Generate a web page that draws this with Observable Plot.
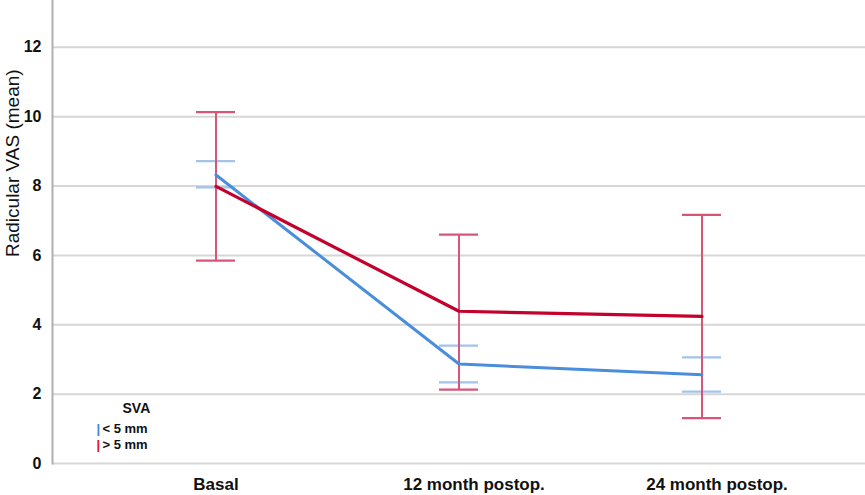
<!DOCTYPE html>
<html>
<head>
<meta charset="utf-8">
<script src="https://cdn.jsdelivr.net/npm/d3@7"></script>
<script src="https://cdn.jsdelivr.net/npm/@observablehq/plot@0.6"></script>
<style>
  html, body { margin: 0; padding: 0; background: #fff; }
  #chart { width: 865px; height: 495px; }
  svg { font-family: "Liberation Sans", Arial, sans-serif; }
</style>
</head>
<body>
<div id="chart"></div>
<script>
const categories = ["Basal", "12 month postop.", "24 month postop."];
const groups = ["< 5 mm", "> 5 mm"];
const meanLow = [8.32, 2.87, 2.56];      // SVA < 5 mm
const ciLowLo = [7.96, 2.34, 2.07];
const ciLowHi = [8.72, 3.40, 3.06];
const meanHigh = [7.99, 4.39, 4.24];     // SVA > 5 mm
const ciHighLo = [5.85, 2.13, 1.31];
const ciHighHi = [10.13, 6.60, 7.17];
const yTicks = [0, 2, 4, 6, 8, 10, 12];

const lineColor = {"< 5 mm": "#4a8edb", "> 5 mm": "#c4002d"};
const barColor = {"< 5 mm": "#a3c3ea", "> 5 mm": "#d8557a"};
const legendTick = {"< 5 mm": "#3f86de", "> 5 mm": "#e0102f"};

const rows = [];
categories.forEach((c, i) => {
  rows.push({cat: c, group: groups[0], mean: meanLow[i], lo: ciLowLo[i], hi: ciLowHi[i]});
  rows.push({cat: c, group: groups[1], mean: meanHigh[i], lo: ciHighLo[i], hi: ciHighHi[i]});
});
const low = rows.filter(d => d.group === groups[0]);
const high = rows.filter(d => d.group === groups[1]);

const legendMarks = groups.flatMap((g, i) => [
  Plot.text([g], {frameAnchor: "bottom-left", dx: 44, dy: -31 + 16 * i, text: () => "|", fill: legendTick[g], fontSize: 13, fontWeight: "bold"}),
  Plot.text([g], {frameAnchor: "bottom-left", dx: 50, dy: -31 + 16 * i, textAnchor: "start", fontSize: 13, fontWeight: "bold", fill: "#111"})
]);

const chart = Plot.plot({
  width: 865,
  height: 495,
  marginLeft: 52,
  marginRight: 0,
  marginTop: 0,
  marginBottom: 32,
  style: {fontFamily: '"Liberation Sans", Arial, sans-serif', background: "#fff"},
  x: {type: "band", domain: categories, paddingInner: 0.84, paddingOuter: 0.59, axis: null},
  y: {domain: [0, 13.35], axis: null},
  marks: [
    Plot.ruleY(yTicks, {stroke: "#d6d6d6", strokeWidth: 2}),
    Plot.frame({anchor: "left", stroke: "#b0b0b0", strokeWidth: 2}),
    Plot.axisY(yTicks, {tickSize: 0, tickPadding: 11, fontSize: 16, fontWeight: "bold", fill: "#111", label: null}),
    Plot.axisX(categories.slice(0, 1), {tickSize: 0, tickPadding: 14, fontSize: 17, fontWeight: "bold", fill: "#111", label: null}),
    Plot.axisX(categories.slice(1), {tickSize: 0, tickPadding: 14, dx: 15, fontSize: 17, fontWeight: "bold", fill: "#111", label: null}),
    Plot.text(["Radicular VAS (mean)"], {frameAnchor: "left", dx: -40, dy: 25, rotate: -90, fontSize: 19, fill: "#111"}),
    // error bars
    Plot.ruleX(low, {x: "cat", y1: "lo", y2: "hi", stroke: barColor["< 5 mm"], strokeWidth: 2}),
    Plot.tickY(low, {x: "cat", y: "lo", stroke: barColor["< 5 mm"], strokeWidth: 2.2}),
    Plot.tickY(low, {x: "cat", y: "hi", stroke: barColor["< 5 mm"], strokeWidth: 2.2}),
    Plot.ruleX(high, {x: "cat", y1: "lo", y2: "hi", stroke: barColor["> 5 mm"], strokeWidth: 2}),
    Plot.tickY(high, {x: "cat", y: "lo", stroke: barColor["> 5 mm"], strokeWidth: 2.2}),
    Plot.tickY(high, {x: "cat", y: "hi", stroke: barColor["> 5 mm"], strokeWidth: 2.2}),
    // mean lines
    Plot.line(low, {x: "cat", y: "mean", stroke: lineColor["< 5 mm"], strokeWidth: 3}),
    Plot.line(high, {x: "cat", y: "mean", stroke: lineColor["> 5 mm"], strokeWidth: 3.2}),
    // legend
    Plot.text(["SVA"], {frameAnchor: "bottom-left", dx: 70, dy: -51, fontSize: 14, fontWeight: "bold", fill: "#111"}),
    ...legendMarks
  ]
});
document.getElementById("chart").appendChild(chart);
</script>
</body>
</html>
